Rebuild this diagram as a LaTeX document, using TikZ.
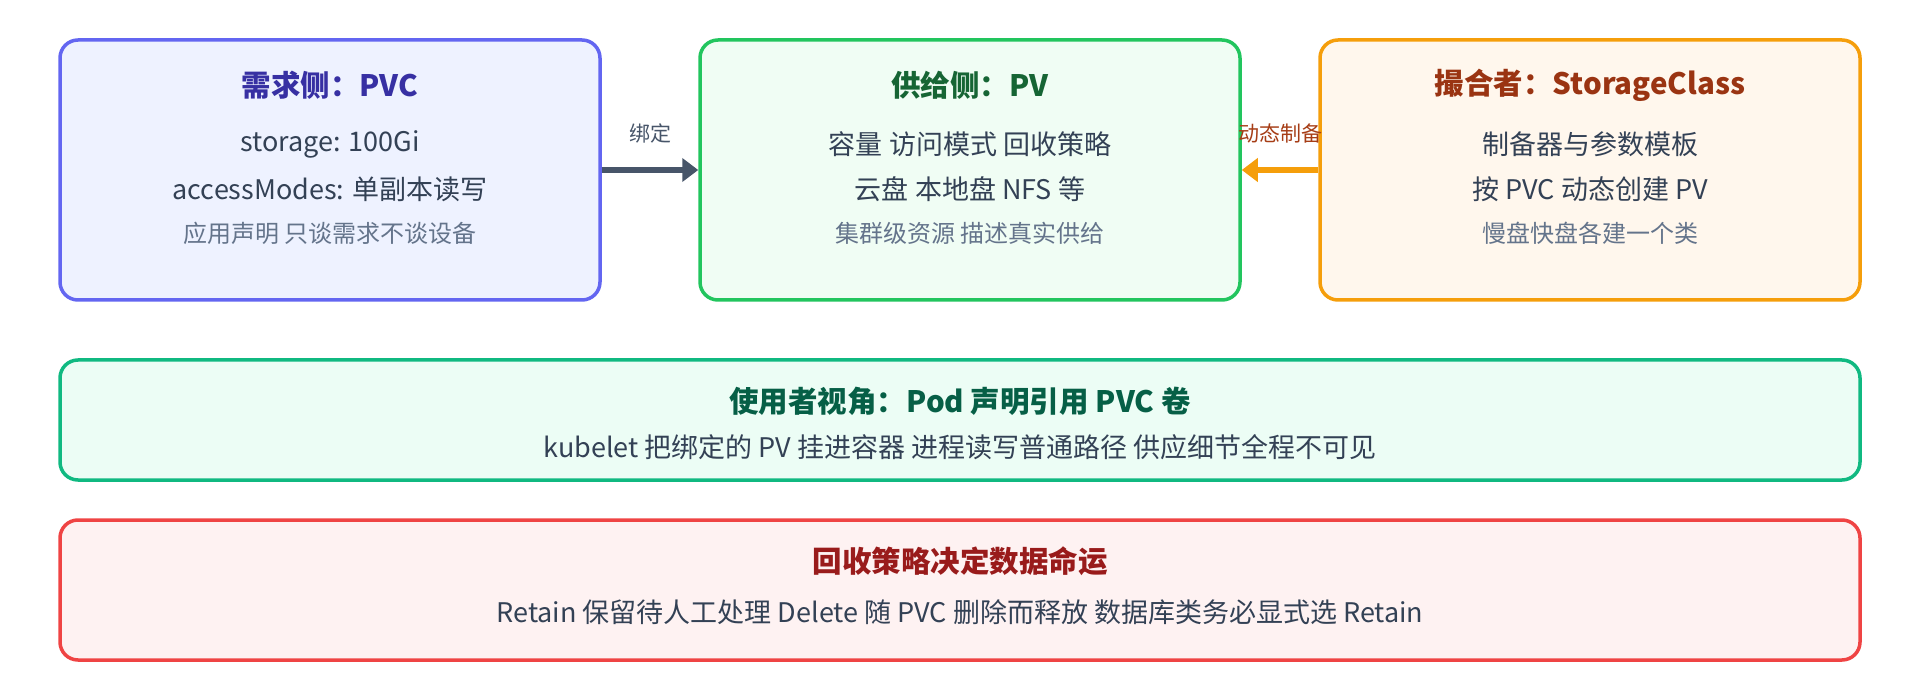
\documentclass[tikz,border=0pt]{standalone}
\usepackage{fontspec}
\setmainfont{Noto Sans CJK SC}
\usetikzlibrary{arrows.meta}
\definecolor{bIndigo}{HTML}{6366F1}\definecolor{fIndigo}{HTML}{EEF2FF}\definecolor{tIndigo}{HTML}{3730A3}
\definecolor{bGreen}{HTML}{22C55E}\definecolor{fGreen}{HTML}{F0FDF4}\definecolor{tGreen}{HTML}{166534}
\definecolor{bAmber}{HTML}{F59E0B}\definecolor{fAmber}{HTML}{FFF7ED}\definecolor{tAmber}{HTML}{9A3412}
\definecolor{bEmer}{HTML}{10B981}\definecolor{fEmer}{HTML}{ECFDF5}\definecolor{tEmer}{HTML}{065F46}
\definecolor{bRed}{HTML}{EF4444}\definecolor{fRed}{HTML}{FEF2F2}\definecolor{tRed}{HTML}{991B1B}
\definecolor{txtMain}{HTML}{334155}\definecolor{txtSub}{HTML}{64748B}
\definecolor{arrGray}{HTML}{475569}\definecolor{lblAmber}{HTML}{A63D16}
\tikzset{
  box/.style={rounded corners=18pt, line width=3.5pt, inner sep=0pt},
  ttl/.style={inner sep=0pt, font=\fontsize{29.5}{34}\selectfont\bfseries},
  mainline/.style={inner sep=0pt, text=txtMain, font=\fontsize{27}{32}\selectfont},
  subline/.style={inner sep=0pt, text=txtSub, font=\fontsize{24}{28}\selectfont},
  lbl/.style={inner sep=0pt, font=\fontsize{21}{25}\selectfont},
  conn/.style={line width=5.5pt, -{Triangle[length=16pt,width=23pt]}}
}
\begin{document}
\begin{tikzpicture}[x=1pt,y=-1pt]
\useasboundingbox (0,0) rectangle (1920,700);
% top row boxes
\node[box, draw=bIndigo, fill=fIndigo, minimum width=540pt, minimum height=260pt] (pvc) at (330,170) {};
\node[box, draw=bGreen, fill=fGreen, minimum width=540pt, minimum height=260pt] (pv) at (970,170) {};
\node[box, draw=bAmber, fill=fAmber, minimum width=540pt, minimum height=260pt] (sc) at (1590,170) {};
% bottom boxes
\node[box, draw=bEmer, fill=fEmer, minimum width=1800pt, minimum height=120pt] (pod) at (960,420) {};
\node[box, draw=bRed, fill=fRed, minimum width=1800pt, minimum height=140pt] (ret) at (960,590) {};
% PVC texts
\node[ttl, text=tIndigo] (pvcT) at (330,85) {需求侧：PVC};
\node[mainline] (pvcA) at (330,144) {storage: 100Gi};
\node[mainline] (pvcB) at (330,189) {accessModes: 单副本读写};
\node[subline] (pvcC) at (330,233) {应用声明 只谈需求不谈设备};
% PV texts
\node[ttl, text=tGreen] (pvT) at (970,85) {供给侧：PV};
\node[mainline] (pvA) at (970,144) {容量 访问模式 回收策略};
\node[mainline] (pvB) at (970,189) {云盘 本地盘 NFS 等};
\node[subline] (pvC) at (970,233) {集群级资源 描述真实供给};
% SC texts
\node[ttl, text=tAmber] (scT) at (1590,85) {撮合者：StorageClass};
\node[mainline] (scA) at (1590,144) {制备器与参数模板};
\node[mainline] (scB) at (1590,189) {按 PVC 动态创建 PV};
\node[subline] (scC) at (1590,233) {慢盘快盘各建一个类};
% Pod texts
\node[ttl, text=tEmer] (podT) at (960,401) {使用者视角：Pod 声明引用 PVC 卷};
\node[mainline] (podA) at (960,447) {kubelet 把绑定的 PV 挂进容器 进程读写普通路径 供应细节全程不可见};
% Retain texts
\node[ttl, text=tRed] (retT) at (960,561) {回收策略决定数据命运};
\node[mainline] (retA) at (960,612) {Retain 保留待人工处理 Delete 随 PVC 删除而释放 数据库类务必显式选 Retain};
% connectors
\draw[conn, arrGray] (pvc.east) -- (pv.west);
\draw[conn, bAmber] (sc.west) -- (pv.east);
\node[lbl, text=arrGray] (bindL) at (650,133) {绑定};
\node[lbl, text=lblAmber] (provL) at (1280,133) {动态制备};
\end{tikzpicture}
\end{document}
